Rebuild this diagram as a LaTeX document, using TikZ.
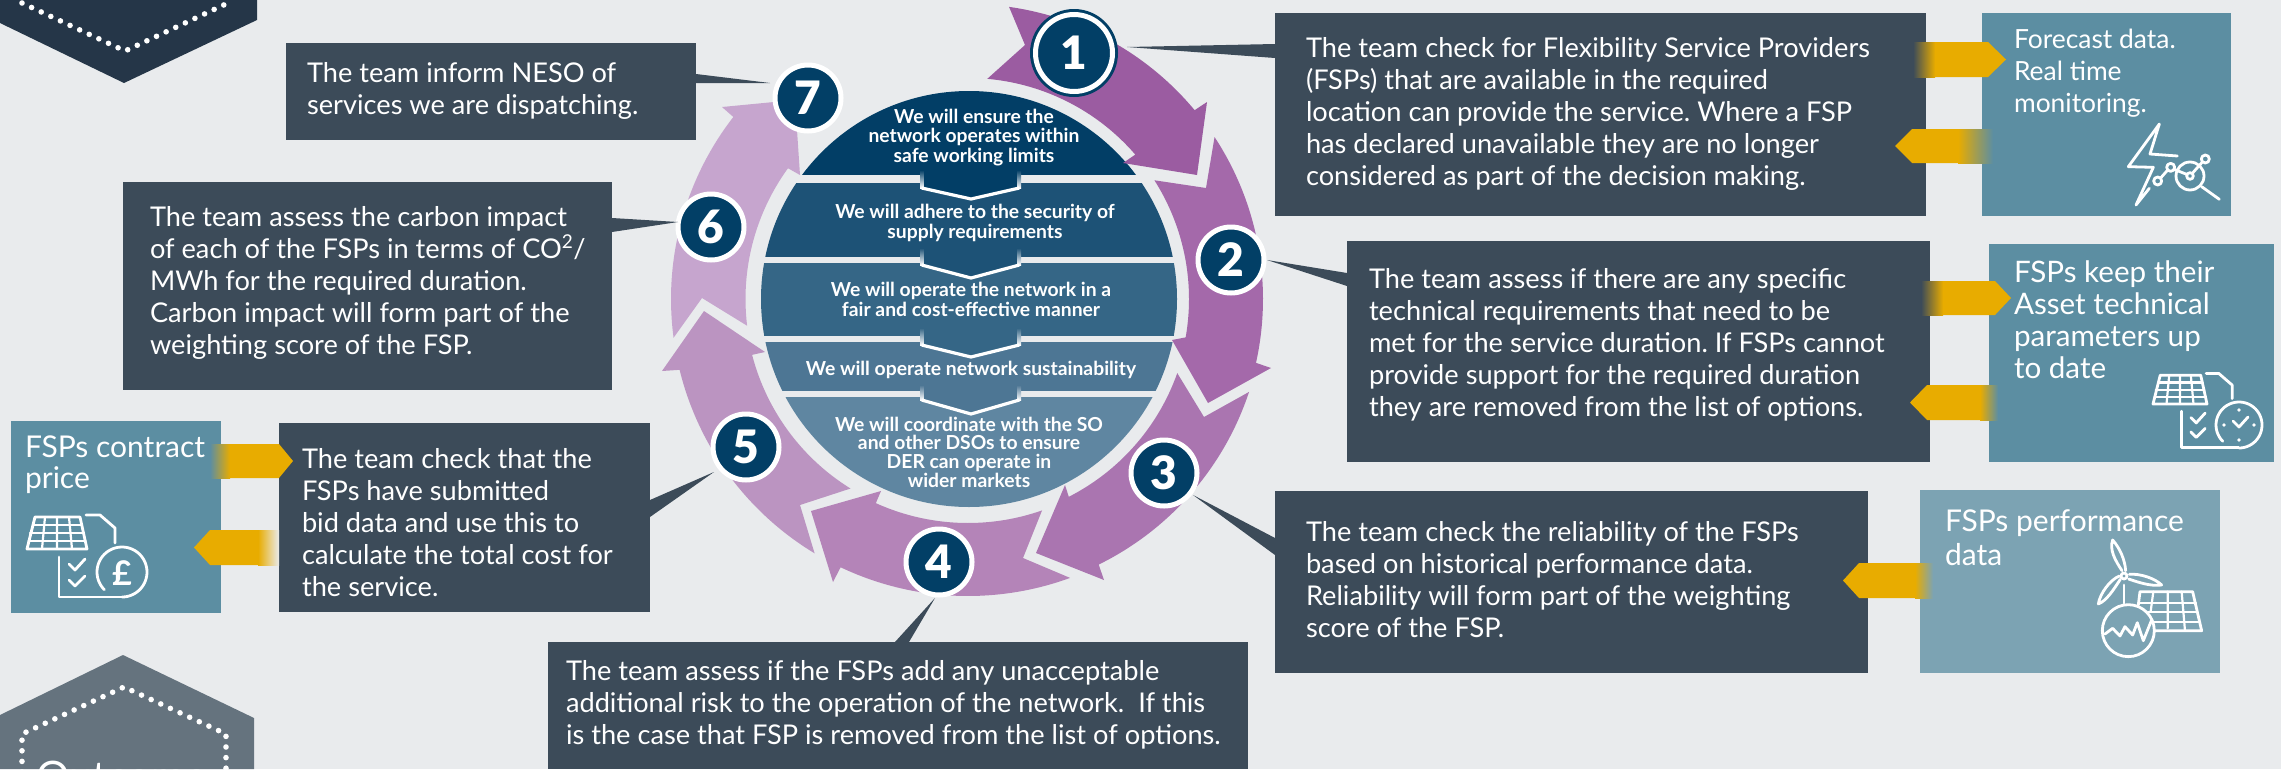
\documentclass[tikz,border=0pt]{standalone}
\usepackage{fontspec}
\setmainfont{Lato}
\newfontfamily\numfont{Lato Black}
\usetikzlibrary{fit}
\definecolor{bgc}{HTML}{E9EBED}
\definecolor{boxc}{HTML}{3C4B59}
\definecolor{datac}{HTML}{5C8EA2}
\definecolor{datal}{HTML}{7CA3B3}
\definecolor{orng}{HTML}{E8AC00}
\definecolor{pale}{HTML}{E8CF8A}
\definecolor{navy}{HTML}{023F66}
\definecolor{hexd}{HTML}{253648}
\definecolor{hexg}{HTML}{65737E}
\definecolor{ba}{HTML}{023E66}
\definecolor{bb}{HTML}{1D5276}
\definecolor{bc}{HTML}{356686}
\definecolor{bd}{HTML}{4D7694}
\definecolor{be}{HTML}{5F86A1}
\definecolor{aa}{HTML}{9B5CA1}
\definecolor{ab}{HTML}{A469AA}
\definecolor{ac}{HTML}{AA75B0}
\definecolor{ad}{HTML}{B484B8}
\definecolor{ae}{HTML}{BB94C1}
\definecolor{af}{HTML}{C6A5CE}
\tikzset{
 pane/.style={inner sep=0pt,outer sep=0pt,draw=none,fill=#1},
 wedgeshape/.style={fill=boxc},
 label text/.style={inner sep=0pt,outer sep=0pt,text=white,align=left,anchor=north west},
 disk text/.style={inner sep=0pt,outer sep=0pt,text=white,align=center,anchor=north},
 num/.style={circle,fill=navy,draw=white,line width=5pt,minimum size=66pt,inner sep=0pt,text=white,font=\fontsize{46}{46}\selectfont\numfont},
 dots/.style={draw=white,line width=5.6pt,line cap=round,dash pattern=on 0pt off 10.6pt},
 ico/.style={draw=white,line width=2.8pt,line cap=round,line join=round},
 icofine/.style={draw=white,line width=2.2pt,line cap=round,line join=round},
}
% ring segment centred on the diagram
\def\arcc#1#2#3{plot[domain=#2:#3,samples=48,variable=\t] ({968+#1*cos(\t)},{299+#1*sin(\t)})}
\def\arcj#1#2#3{-- plot[domain=#2:#3,samples=48,variable=\t] ({968+#1*cos(\t)},{299+#1*sin(\t)})}
% text: name,x,first baseline,size,leading,lines
\newcommand{\tx}[6]{\node[label text,font=\fontsize{#4}{#5}\selectfont\frenchspacing] (#1) at (#2,{#3-#5}) {\rule{0pt}{#5pt}#6};}
% disk text: name,x,first baseline,leading,lines
\newcommand{\dtx}[5]{\node[disk text,font=\fontsize{19.3}{#4}\selectfont\bfseries] (#1) at (#2,{#3-#4}) {\rule{0pt}{#4pt}#5};}
% chevron: top y, shoulder y, tip y, colour, band bottom
\newcommand{\chev}[5]{
 \fill[#4] (922,#5) -- (922,#2) -- (971,#3) -- (1019,#2) -- (1019,#5) -- cycle;
 \shade[top color=#4,bottom color=white] (920,#1) rectangle (923.5,#2);
 \shade[top color=#4,bottom color=white] (1017.5,#1) rectangle (1021,#2);
 \draw[white,line width=3.2pt,line join=round] (921.7,#2) -- (971,#3) -- (1019.3,#2);
}
% orange arrow pointing right: x0,xfade,xshoulder,xtip,ytop,ybot,colour under tail
\newcommand{\orR}[7]{
 \fill[orng] (#2,#5) -- (#3,#5) -- (#4,{(#5+#6)/2}) -- (#3,#6) -- (#2,#6) -- cycle;
 \shade[left color=#7,middle color=pale,right color=orng] (#1,#5) rectangle (#2,#6);
}
% orange arrow pointing left: x0,xfade,xshoulder,xtip,ytop,ybot,colour under tail
\newcommand{\orL}[7]{
 \fill[orng] (#2,#5) -- (#3,#5) -- (#4,{(#5+#6)/2}) -- (#3,#6) -- (#2,#6) -- cycle;
 \shade[right color=#7,middle color=pale,left color=orng] (#2,#5) rectangle (#1,#6);
}
% open dial: centre x, centre y, radius
\newcommand{\dial}[3]{\draw[ico] plot[domain=135:450,samples=60,variable=\t] ({#1+#3*cos(\t)},{#2+#3*sin(\t)});}
% solar panel + check document; #1,#2 origin, #3 scale
\newcommand{\paneldoc}[3]{
 \begin{scope}[shift={(#1,#2)},scale=#3]
  \draw[ico] (8,-32) -- (53,-32) -- (60,0) -- (0,0) -- cycle;
  \draw[icofine] (6,-24) -- (55,-24) (3,-16) -- (57,-16) (1.5,-8) -- (58.5,-8);
  \draw[icofine] (18,-32) -- (15,0) (30,-32) -- (30,0) (42,-32) -- (45,0);
  \draw[ico] (59,-34) -- (73,-34) -- (88,-21) -- (88,-6);
  \draw[ico] (32,8) -- (32,48) -- (95,48);
  \draw[ico] (42,15) -- (48,21) -- (58,10);
  \draw[ico] (42,31) -- (48,37) -- (58,27);
 \end{scope}
}
\begin{document}
\begin{tikzpicture}[x=1pt,y=-1pt]
\useasboundingbox (0,0) rectangle (2281,769);
\clip (0,0) rectangle (2281,769);
\fill[bgc] (0,0) rectangle (2281,769);

% hexagons
\fill[hexd] (0,0) -- (0,23) -- (124,83) -- (257,20) -- (257,0) -- cycle;
\draw[dots] (22,3) -- (125,51) -- (228,3);
\fill[hexg] (0,715) -- (123,655) -- (254,718) -- (254,769) -- (0,769) -- cycle;
\draw[dots] (22,772) -- (22,734) -- (124,687) -- (226,734) -- (226,772);
\node[inner sep=0pt,text=white,font=\fontsize{42}{42}\selectfont,anchor=base] (outc) at (122,791) {Outcome};

% central disk
\begin{scope}
 \clip (969,299) circle (208);
 \fill[ba] (750,85) rectangle (1190,175);
 \fill[bb] (750,183) rectangle (1190,257);
 \fill[bc] (750,263) rectangle (1190,336);
 \fill[bd] (750,342) rectangle (1190,391);
 \fill[be] (750,397) rectangle (1190,515);
\end{scope}
\chev{170}{188}{199}{ba}{175}
\chev{248}{265}{278}{bb}{257}
\chev{328}{345}{357}{bc}{336}
\chev{385}{400}{414}{bd}{391}

% ring arrows
\fill[aa] \arcc{295}{-82}{-39.8} -- (1207,102) -- (1197,175) -- (1123,163) \arcj{221}{-40.8}{-85} -- (1025,45) -- cycle;
\fill[ab] \arcc{295}{-33.3}{12.5} -- (1271,368) -- (1208,403) -- (1172,340) \arcj{221}{10}{-32.5} -- (1206,188) -- cycle;
\fill[ac] \arcc{296}{18.3}{63.8} -- (1104,580) -- (1036,553) -- (1065,485) \arcj{222}{63}{19.5} -- (1204,417) -- cycle;
\fill[ad] \arcc{297}{69.9}{115.4} -- (833,582) -- (811,511) -- (881,491) \arcj{224}{114.3}{70.7} -- (1023,558) -- cycle;
\fill[ae] \arcc{297}{121.1}{166.2} -- (662,371) -- (704,311) -- (765,352) \arcj{223}{165.5}{121.8} -- (800,505) -- cycle;
\fill[af] \arcc{297}{172.5}{217.8} -- (722,107) -- (795,100) -- (800,175) \arcj{222.5}{216}{173.1} -- (702,298) -- cycle;

% panes
\node[pane=boxc,fit={(1275,13) (1926,216)}] (b1) {};
\node[pane=datac,fit={(1982,13) (2231,216)}] (d1) {};
\node[pane=boxc,fit={(1347,241) (1930,462)}] (b2) {};
\node[pane=datac,fit={(1989,244) (2274,462)}] (d2) {};
\node[pane=boxc,fit={(1275,491) (1868,673)}] (b3) {};
\node[pane=datal,fit={(1920,490) (2220,673)}] (d3) {};
\node[pane=boxc,fit={(548,642) (1248,769)}] (b4) {};
\node[pane=boxc,fit={(279,423) (650,612)}] (b5) {};
\node[pane=datac,fit={(11,421) (221,613)}] (d5) {};
\node[pane=boxc,fit={(123,182) (612,390)}] (b6) {};
\node[pane=boxc,fit={(286,43) (696,140)}] (b7) {};

% numbered circles
\fill[navy] (1074,53) circle (44);
\node[num,minimum size=77pt] (c1) at (1074,53) {1};
\node[num] (c2) at (1231,260) {2};
\node[num] (c3) at (1164,473) {3};
\node[num] (c4) at (939,562) {4};
\node[num] (c5) at (746,447) {5};
\node[num] (c6) at (711,227) {6};
\node[num] (c7) at (808,98) {7};

% pointers
\coordinate (p1) at (1127,47);
\coordinate (p2) at (1267,260);
\coordinate (p3) at (1193,495);
\coordinate (p4) at (935,598);
\coordinate (p5) at (714,472);
\coordinate (p6) at (678,222);
\coordinate (p7) at (770,83);
\fill[wedgeshape] (p1) -- (b1.west |- 0,44) -- (b1.west |- 0,58) -- cycle;
\fill[wedgeshape] (p2) -- (b2.west |- 0,273) -- (b2.west |- 0,286) -- cycle;
\fill[wedgeshape] (p3) -- (b3.west |- 0,538) -- (b3.west |- 0,555) -- cycle;
\fill[wedgeshape] (p4) -- (895,642) -- (909,642) -- cycle;
\fill[wedgeshape] (p5) -- (b5.east |- 0,500) -- (b5.east |- 0,517) -- cycle;
\fill[wedgeshape] (p6) -- (b6.east |- 0,218) -- (b6.east |- 0,232) -- cycle;
\fill[wedgeshape] (p7) -- (b7.east |- 0,74) -- (b7.east |- 0,83) -- cycle;

% orange arrows
\orR{1913}{1935}{1988}{2006}{42}{77}{boxc}
\orL{1993}{1958}{1912}{1895}{129}{163}{datac}
\orR{1921}{1943}{1995}{2011}{281}{315}{boxc}
\orL{1998}{1980}{1927}{1910}{385}{420}{datac}
\orL{1933}{1915}{1859}{1843}{563}{598}{datal}
\orR{210}{230}{279}{293}{444}{478}{datac}
\orL{279}{258}{210}{194}{530}{565}{bgc}

% body texts
\tx{t1}{1306}{57}{27.2}{32}{The team check for Flexibility Service Providers\\(FSPs) that are available in the required\\location can provide the service. Where a FSP\\has declared unavailable they are no longer\\considered as part of the decision making.}
\tx{t2}{1369}{288}{27.2}{32}{The team assess if there are any specific\\technical requirements that need to be\\met for the service duration. If FSPs cannot\\provide support for the required duration\\they are removed from the list of options.}
\tx{t3}{1306}{541}{27.2}{32}{The team check the reliability of the FSPs\\based on historical performance data.\\Reliability will form part of the weighting\\score of the FSP.}
\tx{t4}{566}{680}{27.2}{32}{The team assess if the FSPs add any unacceptable\\additional risk to the operation of the network.\ \ If this\\is the case that FSP is removed from the list of options.}
\tx{t5}{302}{468}{27.2}{32}{The team check that the\\FSPs have submitted\\bid data and use this to\\calculate the total cost for\\the service.}
\tx{t6}{150}{226}{27.2}{32}{The team assess the carbon impact\\of each of the FSPs in terms of CO\textsuperscript{2}/\\MWh for the required duration.\\Carbon impact will form part of the\\weighting score of the FSP.}
\tx{t7}{307}{82}{27.2}{32}{The team inform NESO of\\services we are dispatching.}

% data texts
\tx{e1}{2014}{48}{26.4}{32}{Forecast data.\\Real time\\monitoring.}
\tx{e2}{2014}{282}{29.6}{32}{FSPs keep their\\Asset technical\\parameters up\\to date}
\tx{e3}{1945}{531}{30}{34}{FSPs performance\\data}
\tx{e5}{25}{457}{30}{31}{FSPs contract\\price}

% disk texts
\dtx{m1}{974}{123}{19.5}{We will ensure the\\network operates within\\safe working limits}
\dtx{m2}{975}{218}{20}{We will adhere to the security of\\supply requirements}
\dtx{m3}{971}{296}{20}{We will operate the network in a\\fair and cost-effective manner}
\dtx{m4}{971}{375}{20}{We will operate network sustainability}
\dtx{m5}{969}{431}{18.8}{We will coordinate with the SO\\and other DSOs to ensure\\DER can operate in\\wider markets}

% icon: lightning and analytics
\begin{scope}[shift={(2100,110)},scale=0.3333]
 \draw[ico] (148,235) -- (108,285) -- (160,172) -- (85,170) -- (178,42) -- (150,132) -- (232,138);
 \draw[ico] (173,213) circle (12) (212,172) circle (12) (270,198) circle (10) (316,147) circle (12);
 \draw[ico] (182,204) -- (203,180) (222,178) -- (260,193) (277,190) -- (307,156);
 \draw[ico] (270,198) circle (42);
 \draw[ico] (305,230) -- (358,268);
\end{scope}
% icon: panel, document, clock
\paneldoc{2153}{404}{0.9}
\dial{2239}{425}{23}
\draw[ico] (2233,421) -- (2239,427) -- (2248,417);
\fill[white] (2239,410) circle (1.8) (2239,440) circle (1.8) (2224,425) circle (1.8) (2254,425) circle (1.8);
% icon: panel, document, pound
\paneldoc{27}{549}{1}
\dial{122}{572}{25}
\node[inner sep=0pt,text=white,font=\fontsize{34}{34}\selectfont\bfseries] (pnd) at (122,573) {£};
% icon: turbine, panel, meter
\begin{scope}[shift={(1840,480)},scale=0.3333]
 \draw[ico] (852,288) circle (9);
 \draw[ico] (846,272) .. controls (825,240) and (808,210) .. (818,180) .. controls (840,205) and (855,240) .. (857,272);
 \draw[ico] (868,283) .. controls (900,280) and (945,295) .. (965,315) .. controls (930,320) and (890,305) .. (866,297);
 \draw[ico] (841,298) .. controls (820,330) and (800,362) .. (775,372) .. controls (780,340) and (810,300) .. (838,288);
 \draw[ico] (852,315) -- (852,370);
 \draw[ico] (895,375) -- (900,335) -- (1058,335) -- (1085,452) -- (945,452);
 \draw[icofine] (895,368) -- (1068,368) (925,395) -- (1072,395) (940,425) -- (1078,425);
 \draw[icofine] (940,335) -- (932,395) (983,335) -- (983,445) (1025,335) -- (1035,452);
 \fill[datal] (865,452) circle (78);
 \draw[ico] (865,452) circle (78);
 \draw[ico] (795,462) -- (818,445) -- (840,468) -- (855,440) -- (878,465) -- (892,428) -- (910,482) -- (935,420);
\end{scope}
\end{tikzpicture}
\end{document}
